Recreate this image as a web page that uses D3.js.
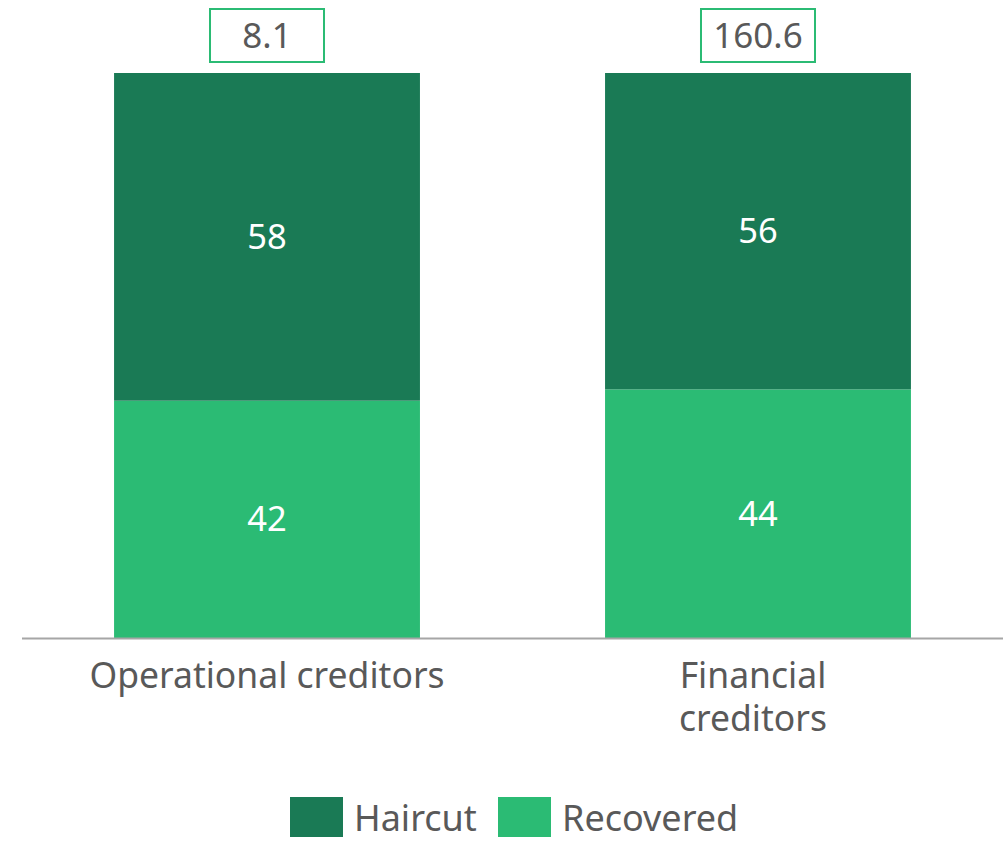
<!DOCTYPE html>
<html>
<head>
<meta charset="utf-8">
<script src="https://cdn.jsdelivr.net/npm/d3@7"></script>
<style>
  body { margin: 0; background: #fff; }
  text { font-family: "Noto Sans", "DejaVu Sans", sans-serif; }
</style>
</head>
<body>
<div id="chart"></div>
<script>
// data
var categories = ["Operational creditors", "Financial creditors"];
var catLines = [["Operational creditors"], ["Financial", "creditors"]];
var totals = ["8.1", "160.6"];
var recovered = [42, 44];
var haircut = [58, 56];
var seriesNames = ["Haircut", "Recovered"];
var colors = { Haircut: "#1a7a55", Recovered: "#2bbb74" };

var w = 1007, h = 841;
var svg = d3.select("#chart").append("svg")
    .attr("width", w).attr("height", h);

var x = d3.scaleBand().domain(categories).range([22, 1003]).paddingInner(0.377).paddingOuter(0.1875);
var y = d3.scaleLinear().domain([0, 100]).range([638, 73]);

var rows = categories.map(function(c, i) {
  return { cat: c, Recovered: recovered[i], Haircut: haircut[i] };
});
var stack = d3.stack().keys(["Recovered", "Haircut"])(rows);

stack.forEach(function(layer) {
  svg.append("g").selectAll("rect")
    .data(layer).enter().append("rect")
    .attr("x", function(d) { return x(d.data.cat); })
    .attr("y", function(d) { return y(d[1]); })
    .attr("width", x.bandwidth())
    .attr("height", function(d) { return y(d[0]) - y(d[1]); })
    .attr("fill", colors[layer.key]);

  svg.append("g").selectAll("text")
    .data(layer).enter().append("text")
    .attr("x", function(d) { return x(d.data.cat) + x.bandwidth() / 2; })
    .attr("y", function(d) { return (y(d[0]) + y(d[1])) / 2; })
    .attr("dy", "0.35em")
    .attr("text-anchor", "middle")
    .attr("font-size", "34.5px")
    .attr("fill", "#fff")
    .text(function(d) { return d[1] - d[0]; });
});

// axis line
svg.append("line")
  .attr("x1", 22).attr("x2", 1003)
  .attr("y1", y(0) + 0.5).attr("y2", y(0) + 0.5)
  .attr("stroke", "#a6a6a6").attr("stroke-width", 2);

// category labels
categories.forEach(function(c, i) {
  var t = svg.append("text")
    .attr("x", x(c) + x.bandwidth() / 2)
    .attr("y", 688)
    .attr("text-anchor", "middle")
    .attr("font-size", "35.5px")
    .attr("fill", "#595959");
  catLines[i].forEach(function(line, j) {
    t.append("tspan")
      .attr("x", x(c) + x.bandwidth() / 2 - (catLines[i].length > 1 ? 5 : 0))
      .attr("dy", j === 0 ? 0 : 43)
      .text(line);
  });
});

// total boxes
categories.forEach(function(c, i) {
  var cx = x(c) + x.bandwidth() / 2;
  svg.append("rect")
    .attr("x", cx - 57).attr("y", 9)
    .attr("width", 114).attr("height", 53)
    .attr("fill", "#fff")
    .attr("stroke", "#2bbb74").attr("stroke-width", 2);
  svg.append("text")
    .attr("x", cx).attr("y", 36)
    .attr("dy", "0.35em")
    .attr("text-anchor", "middle")
    .attr("font-size", "35px")
    .attr("fill", "#595959")
    .text(totals[i]);
});

// legend
var legX = [290, 498];
seriesNames.forEach(function(s, i) {
  svg.append("rect")
    .attr("x", legX[i]).attr("y", 797)
    .attr("width", 53).attr("height", 40)
    .attr("fill", colors[s]);
  svg.append("text")
    .attr("x", legX[i] + 64).attr("y", 818)
    .attr("dy", "0.35em")
    .attr("font-size", "36px")
    .attr("fill", "#595959")
    .text(s);
});
</script>
</body>
</html>
